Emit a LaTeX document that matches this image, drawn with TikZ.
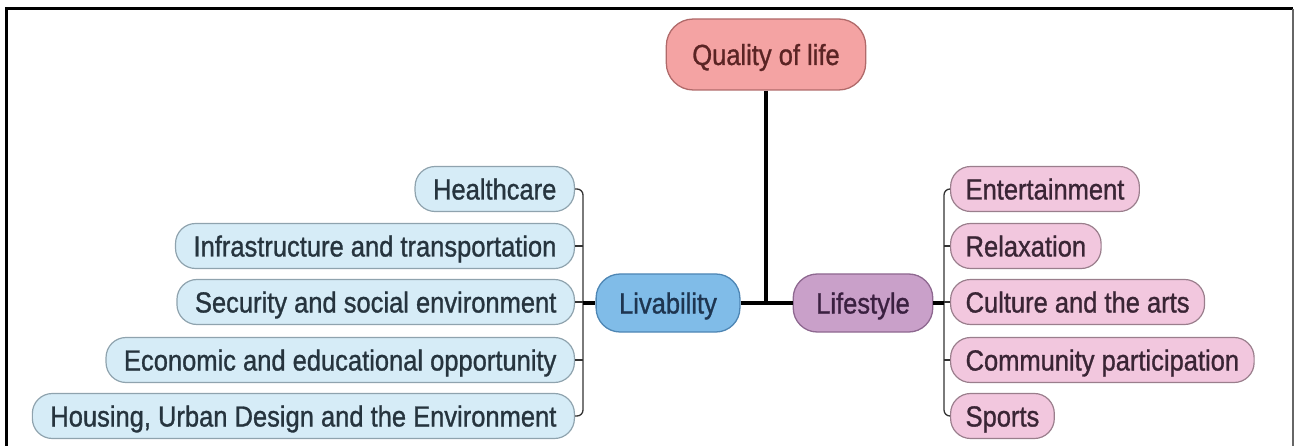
\documentclass[tikz,border=0pt]{standalone}
\usepackage{fontspec}
\setmainfont{Liberation Sans}[FakeBold=1.1]
% labels are set slightly taller than the face's natural proportions
\newcommand\tallt[1]{\scalebox{1}[1.14]{#1}}
\begin{document}
\definecolor{qfill}{HTML}{F4A3A3}
\definecolor{qdraw}{HTML}{B06A6A}
\definecolor{qtext}{HTML}{5A2424}
\definecolor{lvfill}{HTML}{80BCE8}
\definecolor{lvdraw}{HTML}{4E86B4}
\definecolor{lvtext}{HTML}{1E3550}
\definecolor{lsfill}{HTML}{C9A0C9}
\definecolor{lsdraw}{HTML}{8E6890}
\definecolor{lstext}{HTML}{3A2040}
\definecolor{bfill}{HTML}{D6ECF7}
\definecolor{bdraw}{HTML}{8FA3AE}
\definecolor{btext}{HTML}{26343E}
\definecolor{pfill}{HTML}{F2C7DE}
\definecolor{pdraw}{HTML}{9A7E8C}
\definecolor{ptext}{HTML}{3A2535}
\begin{tikzpicture}[x=1pt,y=-1pt,
  every node/.style={font=\fontsize{25.5}{30}\selectfont, text height=23pt, text depth=2pt},
  topic/.style={draw=qdraw, fill=qfill, text=qtext, line width=1.3pt, rounded corners=27pt,
    minimum height=71pt, inner xsep=26pt},
  mainbox/.style={line width=1.3pt, rounded corners=24pt, minimum height=58pt, inner xsep=23pt},
  leftleaf/.style={draw=bdraw, fill=bfill, text=btext, line width=1.2pt, rounded corners=20pt,
    minimum height=45pt, inner xsep=18pt, anchor=east},
  rightleaf/.style={draw=pdraw, fill=pfill, text=ptext, line width=1.2pt, rounded corners=20pt,
    minimum height=45pt, inner xsep=15pt, anchor=west},
  trunk/.style={line width=3.5pt, black},
  bracket/.style={line width=1.3pt, draw=black!80, rounded corners=6pt}]
\useasboundingbox (0,0) rectangle (1295,446);

% frame
\draw[line width=3pt, black] (6,446) -- (6,9) -- (1293,9);
\draw[line width=1.5pt, black!60] (1293,9) -- (1293,446);

% main topics
\node[topic] (q) at (766,54.5) {\tallt{Quality of life}};
\node[mainbox, draw=lvdraw, fill=lvfill, text=lvtext] (lv) at (668,303) {\tallt{Livability}};
\node[mainbox, draw=lsdraw, fill=lsfill, text=lstext] (ls) at (863,303) {\tallt{Lifestyle}};

% livability branches
\node[leftleaf] (hc) at (575,189) {\tallt{Healthcare}};
\node[leftleaf] (it) at (575,246) {\tallt{Infrastructure and transportation}};
\node[leftleaf] (se) at (575,302) {\tallt{Security and social environment}};
\node[leftleaf] (ec) at (575,360) {\tallt{Economic and educational opportunity}};
\node[leftleaf] (hs) at (575,416) {\tallt{Housing, Urban Design and the Environment}};

% lifestyle branches
\node[rightleaf] (en) at (950,189) {\tallt{Entertainment}};
\node[rightleaf] (rx) at (950,246) {\tallt{Relaxation}};
\node[rightleaf] (cu) at (950,302) {\tallt{Culture and the arts}};
\node[rightleaf] (cp) at (950,360) {\tallt{Community participation}};
\node[rightleaf] (sp) at (950,416) {\tallt{Sports}};

% bracket spines
\coordinate (lbar) at (583,303);
\coordinate (rbar) at (944,303);

\draw[bracket] (hc.east) -| (lbar |- hs.east) -- (hs.east);
\draw[bracket] (it.east) -- (lbar |- it.east);
\draw[bracket] (se.east) -- (lbar |- se.east);
\draw[bracket] (ec.east) -- (lbar |- ec.east);

\draw[bracket] (en.west) -| (rbar |- sp.west) -- (sp.west);
\draw[bracket] (rx.west) -- (rbar |- rx.west);
\draw[bracket] (cu.west) -- (rbar |- cu.west);
\draw[bracket] (cp.west) -- (rbar |- cp.west);

% trunk connectors
\draw[trunk] (lbar) -- (lv.west);
\draw[trunk] (lv.east) -- (ls.west);
\draw[trunk] (q.south) -- (q.south |- lv.east);
\draw[trunk] (ls.east) -- (rbar);
\end{tikzpicture}
\end{document}
